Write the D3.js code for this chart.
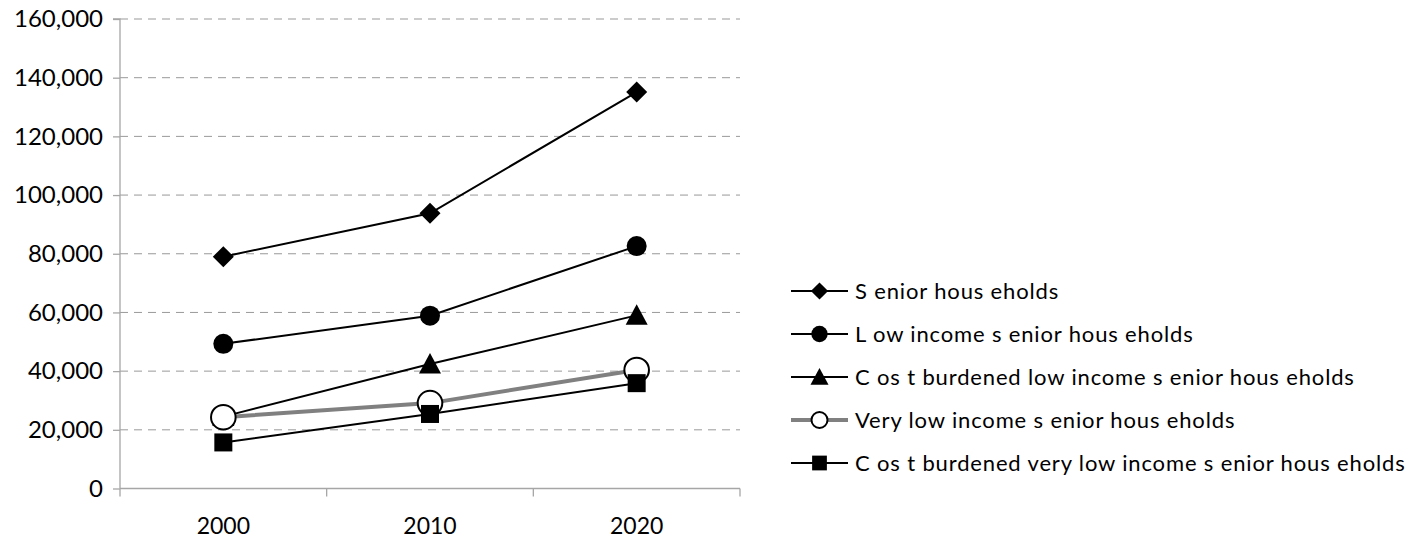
<!DOCTYPE html>
<html>
<head>
<meta charset="utf-8">
<script src="https://cdn.jsdelivr.net/npm/d3@7"></script>
<style>
  html, body { margin: 0; padding: 0; background: #fff; }
  svg { display: block; font-family: Lato, "Open Sans", sans-serif; }
</style>
</head>
<body>
<svg id="chart" width="1423" height="540"></svg>
<script>
// Projected senior households by year
const years = ["2000", "2010", "2020"];
const seniorHouseholds = [79000, 93800, 135100];
const lowIncomeSenior = [49300, 58900, 82600];
const costBurdenedLowIncome = [24500, 42400, 59000];
const veryLowIncomeSenior = [24300, 29100, 40400];
const costBurdenedVeryLowIncome = [15700, 25400, 35900];
const yTicks = [0, 20000, 40000, 60000, 80000, 100000, 120000, 140000, 160000];
const seriesNames = [
  "S enior hous eholds",
  "L ow income s enior hous eholds",
  "C os t burdened low income s enior hous eholds",
  "Very low income s enior hous eholds",
  "C os t burdened very low income s enior hous eholds"
];

const series = [
  { name: seriesNames[0], values: seniorHouseholds, marker: "diamond", line: "#000", width: 2 },
  { name: seriesNames[1], values: lowIncomeSenior, marker: "circle", line: "#000", width: 2 },
  { name: seriesNames[2], values: costBurdenedLowIncome, marker: "triangle", line: "#000", width: 2 },
  { name: seriesNames[3], values: veryLowIncomeSenior, marker: "open", line: "#808080", width: 4 },
  { name: seriesNames[4], values: costBurdenedVeryLowIncome, marker: "square", line: "#000", width: 2 }
];

const svg = d3.select("#chart");
const plot = { left: 120, right: 740, top: 19, bottom: 488.5 };

const x = d3.scalePoint().domain(years).range([plot.left, plot.right]).padding(0.5);
const y = d3.scaleLinear().domain([0, 160000]).range([plot.bottom, plot.top]);

// dashed horizontal gridlines
svg.append("g")
  .selectAll("line")
  .data(yTicks.filter(d => d > 0))
  .join("line")
  .attr("x1", plot.left).attr("x2", plot.right)
  .attr("y1", d => y(d)).attr("y2", d => y(d))
  .attr("stroke", "#999").attr("stroke-width", 1)
  .attr("stroke-dasharray", "8,6");

// y axis
const yAxis = svg.append("g")
  .attr("transform", `translate(${plot.left},0)`)
  .call(d3.axisLeft(y).tickValues(yTicks).tickSize(7).tickPadding(10).tickFormat(d3.format(",")));
yAxis.select(".domain").attr("stroke", "#a6a6a6").attr("stroke-width", 1.3)
  .attr("d", `M-7,${plot.top}H0V${plot.bottom}`);
yAxis.selectAll(".tick line").attr("stroke", "#a6a6a6").attr("stroke-width", 1.3);
yAxis.selectAll(".tick text").attr("font-size", 24).attr("fill", "#000")
  .attr("font-family", "Lato, sans-serif");

// x axis: tick marks sit between the categories
const xg = svg.append("g").attr("transform", `translate(0,${plot.bottom})`);
xg.append("line").attr("x1", plot.left).attr("x2", plot.right)
  .attr("stroke", "#a6a6a6").attr("stroke-width", 1.3);
const step = x.step();
const bounds = d3.range(years.length + 1).map(i => plot.left + i * step);
xg.selectAll("line.tk").data(bounds).join("line").attr("class", "tk")
  .attr("x1", d => d).attr("x2", d => d).attr("y1", 0).attr("y2", 8)
  .attr("stroke", "#a6a6a6").attr("stroke-width", 1.3);
xg.selectAll("text").data(years).join("text")
  .attr("x", d => x(d)).attr("y", 45)
  .attr("text-anchor", "middle").attr("font-size", 23).attr("fill", "#000")
  .text(d => d);

// marker drawing
function drawMarker(g, type, cx, cy) {
  if (type === "diamond") {
    g.append("path").attr("d", `M${cx},${cy - 10.5}L${cx + 10.5},${cy}L${cx},${cy + 10.5}L${cx - 10.5},${cy}Z`)
      .attr("fill", "#000");
  } else if (type === "circle") {
    g.append("circle").attr("cx", cx).attr("cy", cy).attr("r", 10).attr("fill", "#000");
  } else if (type === "triangle") {
    g.append("path").attr("d", `M${cx},${cy - 11}L${cx + 11},${cy + 9.5}L${cx - 11},${cy + 9.5}Z`)
      .attr("fill", "#000");
  } else if (type === "open") {
    g.append("circle").attr("cx", cx).attr("cy", cy).attr("r", 12.3)
      .attr("fill", "#fff").attr("stroke", "#000").attr("stroke-width", 2);
  } else if (type === "square") {
    g.append("rect").attr("x", cx - 9).attr("y", cy - 9).attr("width", 18).attr("height", 18)
      .attr("fill", "#000");
  }
}

const line = d3.line().x((d, i) => x(years[i])).y(d => y(d));

// series lines and markers, drawn in order
series.forEach(s => {
  const g = svg.append("g");
  g.append("path").attr("d", line(s.values))
    .attr("fill", "none").attr("stroke", s.line).attr("stroke-width", s.width);
  s.values.forEach((v, i) => drawMarker(g, s.marker, x(years[i]), y(v)));
});

// legend
const legend = svg.append("g");
const legendY = d3.scalePoint().domain(seriesNames).range([291, 463]);
series.forEach(s => {
  const ly = legendY(s.name);
  const g = legend.append("g");
  g.append("line").attr("x1", 791).attr("x2", 848).attr("y1", ly).attr("y2", ly)
    .attr("stroke", s.line).attr("stroke-width", s.width);
  if (s.marker === "open") {
    g.append("circle").attr("cx", 819.5).attr("cy", ly).attr("r", 8)
      .attr("fill", "#fff").attr("stroke", "#000").attr("stroke-width", 2);
  } else {
    const mg = g.append("g").attr("transform", `translate(819.5,${ly}) scale(0.82) translate(-819.5,${-ly})`);
    drawMarker(mg, s.marker, 819.5, ly);
  }
  g.append("text").attr("x", 855).attr("y", ly).attr("dy", "0.35em")
    .attr("font-size", 22).attr("letter-spacing", 0.85).attr("fill", "#000").text(s.name);
});
</script>
</body>
</html>
